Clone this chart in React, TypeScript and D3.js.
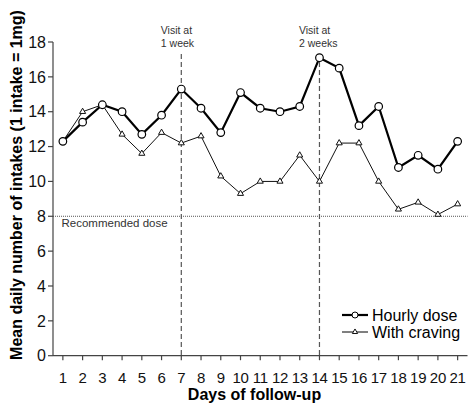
import React from "react";
import * as d3 from "d3";

const WIDTH = 468;
const HEIGHT = 404;
const MARGINS = { top: 42, right: 0.5, bottom: 48.3, left: 53 };

const days = [1, 2, 3, 4, 5, 6, 7, 8, 9, 10, 11, 12, 13, 14, 15, 16, 17, 18, 19, 20, 21];
const hourlyDose = [12.3, 13.4, 14.4, 14.0, 12.7, 13.8, 15.3, 14.2, 12.8, 15.1, 14.2, 14.0, 14.3, 17.1, 16.5, 13.2, 14.3, 10.8, 11.5, 10.7, 12.3];
const withCraving = [12.3, 14.0, 14.4, 12.7, 11.6, 12.8, 12.2, 12.6, 10.3, 9.3, 10.0, 10.0, 11.5, 10.0, 12.2, 12.2, 10.0, 8.4, 8.8, 8.1, 8.7];
const yTicks = [0, 2, 4, 6, 8, 10, 12, 14, 16, 18];
const visits = [
  { day: 7, lines: ["Visit at", "1 week"] },
  { day: 14, lines: ["Visit at", "2 weeks"] },
];
const recommendedDose = 8;

const AXIS = "#444";
const FONT = "Arial, 'Liberation Sans', Helvetica, sans-serif";

const Chart = () => {
  const ref = React.useRef<SVGSVGElement>(null);

  React.useEffect(() => {
    const svg = d3.select(ref.current!);
    svg.selectAll("*").remove();

    const x = d3
      .scaleLinear()
      .domain([0.5, 21.5])
      .range([MARGINS.left, WIDTH - MARGINS.right]);
    const y = d3
      .scaleLinear()
      .domain([0, 18])
      .range([HEIGHT - MARGINS.bottom, MARGINS.top]);

    // reference lines
    svg
      .append("line")
      .attr("x1", x(0.5))
      .attr("x2", x(21.5))
      .attr("y1", y(recommendedDose))
      .attr("y2", y(recommendedDose))
      .attr("stroke", "#555")
      .attr("stroke-width", 1)
      .attr("stroke-dasharray", "1,1");

    svg
      .append("text")
      .attr("x", x(0.5) + 8.5)
      .attr("y", y(recommendedDose) + 11)
      .attr("font-family", FONT)
      .attr("font-size", 11.5)
      .attr("fill", "#333")
      .text("Recommended dose");

    visits.forEach((v) => {
      svg
        .append("line")
        .attr("x1", x(v.day))
        .attr("x2", x(v.day))
        .attr("y1", 54)
        .attr("y2", y(0))
        .attr("stroke", "#555")
        .attr("stroke-width", 1.2)
        .attr("stroke-dasharray", "5,3");
      v.lines.forEach((line, i) => {
        svg
          .append("text")
          .attr("x", x(v.day) - 20.5)
          .attr("y", 34 + i * 12.5)
          .attr("font-family", FONT)
          .attr("font-size", 10.5)
          .attr("fill", "#333")
          .text(line);
      });
    });

    // axes
    const axes = svg.append("g").attr("stroke", AXIS).attr("stroke-width", 1.2);
    axes
      .append("line")
      .attr("x1", x(0.5))
      .attr("x2", x(21.5))
      .attr("y1", y(0))
      .attr("y2", y(0));
    axes
      .append("line")
      .attr("x1", x(0.5))
      .attr("x2", x(0.5))
      .attr("y1", y(0))
      .attr("y2", y(18));
    axes
      .selectAll("line.xt")
      .data(days)
      .enter()
      .append("line")
      .attr("class", "xt")
      .attr("x1", (d) => x(d))
      .attr("x2", (d) => x(d))
      .attr("y1", y(0))
      .attr("y2", y(0) + 4.5);
    axes
      .selectAll("line.yt")
      .data(yTicks)
      .enter()
      .append("line")
      .attr("class", "yt")
      .attr("x1", x(0.5) - 5)
      .attr("x2", x(0.5))
      .attr("y1", (d) => y(d))
      .attr("y2", (d) => y(d));

    svg
      .selectAll("text.xl")
      .data(days)
      .enter()
      .append("text")
      .attr("class", "xl")
      .attr("x", (d) => x(d))
      .attr("y", 383)
      .attr("text-anchor", "middle")
      .attr("font-family", FONT)
      .attr("font-size", 15)
      .attr("letter-spacing", -0.3)
      .attr("fill", "#111")
      .text((d) => d);

    svg
      .selectAll("text.yl")
      .data(yTicks)
      .enter()
      .append("text")
      .attr("class", "yl")
      .attr("x", x(0.5) - 7)
      .attr("y", (d) => y(d))
      .attr("dy", "0.36em")
      .attr("text-anchor", "end")
      .attr("font-family", FONT)
      .attr("font-size", 16)
      .attr("fill", "#111")
      .text((d) => d);

    svg
      .append("text")
      .attr("x", 254.5)
      .attr("y", 400)
      .attr("text-anchor", "middle")
      .attr("font-family", FONT)
      .attr("font-size", 16)
      .attr("font-weight", "bold")
      .attr("fill", "#000")
      .text("Days of follow-up");

    svg
      .append("text")
      .attr("transform", "translate(22, 185) rotate(-90)")
      .attr("text-anchor", "middle")
      .attr("font-family", FONT)
      .attr("font-size", 16)
      .attr("font-weight", "bold")
      .attr("fill", "#000")
      .text("Mean daily number of intakes (1 intake = 1mg)");

    // series
    const line = d3
      .line<number>()
      .x((_, i) => x(days[i]))
      .y((d) => y(d));

    const triangle = d3.symbol().type(d3.symbolTriangle).size(16);

    svg
      .append("path")
      .attr("d", line(withCraving))
      .attr("fill", "none")
      .attr("stroke", "#111")
      .attr("stroke-width", 1);
    svg
      .selectAll("path.tri")
      .data(withCraving)
      .enter()
      .append("path")
      .attr("class", "tri")
      .attr("d", triangle()!)
      .attr("transform", (d, i) => `translate(${x(days[i])}, ${y(d)})`)
      .attr("fill", "#fff")
      .attr("stroke", "#111")
      .attr("stroke-width", 1);

    svg
      .append("path")
      .attr("d", line(hourlyDose))
      .attr("fill", "none")
      .attr("stroke", "#000")
      .attr("stroke-width", 2.2);
    svg
      .selectAll("circle.pt")
      .data(hourlyDose)
      .enter()
      .append("circle")
      .attr("class", "pt")
      .attr("cx", (_, i) => x(days[i]))
      .attr("cy", (d) => y(d))
      .attr("r", 3.8)
      .attr("fill", "#fff")
      .attr("stroke", "#000")
      .attr("stroke-width", 1.2);

    // legend
    const legend = [
      { label: "Hourly dose", y: 315, width: 2.2, mark: "circle" },
      { label: "With craving", y: 332, width: 1, mark: "triangle" },
    ];
    legend.forEach((l) => {
      svg
        .append("line")
        .attr("x1", 342)
        .attr("x2", 368)
        .attr("y1", l.y)
        .attr("y2", l.y)
        .attr("stroke", "#000")
        .attr("stroke-width", l.width);
      if (l.mark === "circle") {
        svg
          .append("circle")
          .attr("cx", 355)
          .attr("cy", l.y)
          .attr("r", 3)
          .attr("fill", "#fff")
          .attr("stroke", "#000")
          .attr("stroke-width", 1);
      } else {
        svg
          .append("path")
          .attr("d", d3.symbol().type(d3.symbolTriangle).size(12)()!)
          .attr("transform", `translate(355, ${l.y})`)
          .attr("fill", "#fff")
          .attr("stroke", "#111")
          .attr("stroke-width", 1);
      }
      svg
        .append("text")
        .attr("x", 372)
        .attr("y", l.y + 6)
        .attr("font-family", FONT)
        .attr("font-size", 16)
        .attr("fill", "#000")
        .text(l.label);
    });
  }, []);

  return (
    <svg
      ref={ref}
      width={WIDTH}
      height={HEIGHT}
      style={{ position: "absolute", left: 0, top: 0, background: "#fff" }}
    />
  );
};

export default function App() {
  return <Chart />;
}
